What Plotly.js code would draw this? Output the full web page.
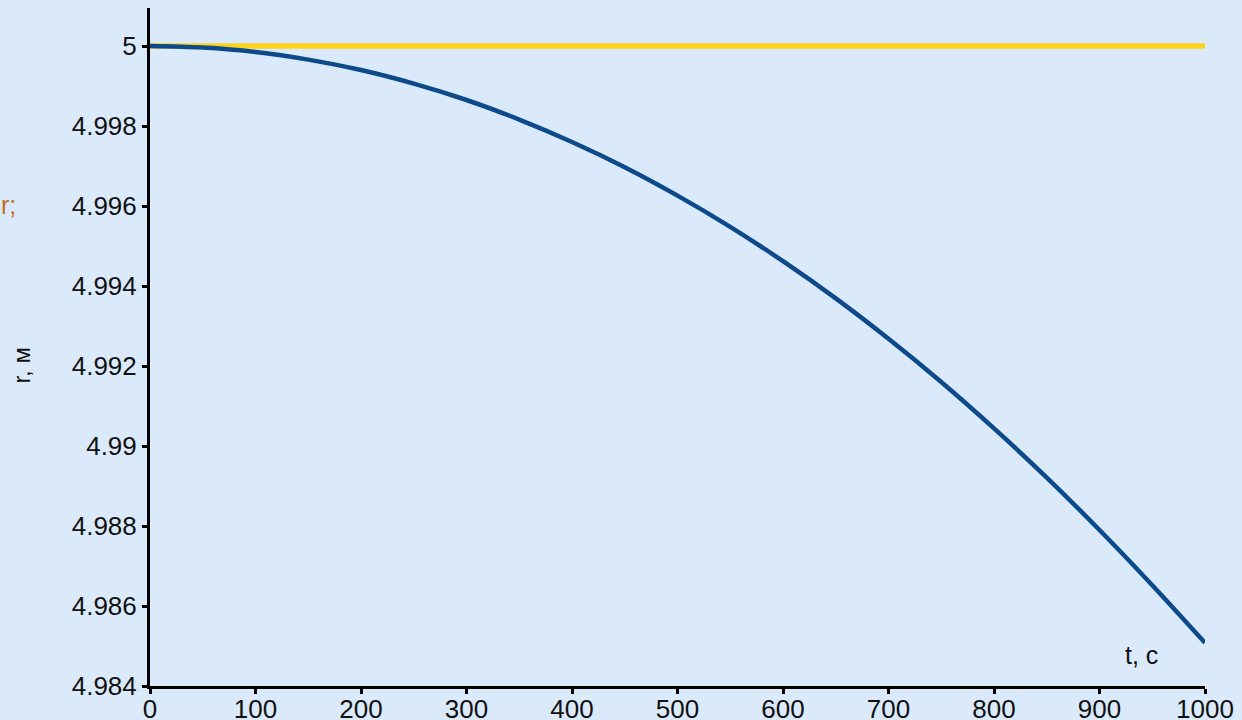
<!DOCTYPE html>
<html>
<head>
<meta charset="utf-8">
<script src="https://cdn.plot.ly/plotly-3.0.1.min.js"></script>
<style>
  html, body { margin: 0; padding: 0; background: #dbeafb; }
  #chart { width: 1242px; height: 720px; }
</style>
</head>
<body>
<div id="chart"></div>
<script>
// Time, s
const timeS = [0, 50, 100, 150, 200, 250, 300, 350, 400, 450, 500,
               550, 600, 650, 700, 750, 800, 850, 900, 950, 1000];
// Radius of the moving body, m
const radiusM = [5, 4.99996, 4.99985, 4.99966, 4.9994, 4.99906, 4.99865, 4.99816,
                 4.9976, 4.99697, 4.99626, 4.99548, 4.99462, 4.99369, 4.99268,
                 4.9916, 4.99044, 4.98921, 4.9879, 4.98652, 4.98508];
// Reference radius (constant)
const refTime = [0, 1000];
const refRadius = [5, 5];

const xTicks = [0, 100, 200, 300, 400, 500, 600, 700, 800, 900, 1000];
const yTicks = [4.984, 4.986, 4.988, 4.99, 4.992, 4.994, 4.996, 4.998, 5];
const yTickText = ['4.984', '4.986', '4.988', '4.99', '4.992', '4.994', '4.996', '4.998', '5'];

const fontFamily = '"Liberation Sans", Arial, sans-serif';

const traces = [
  {
    x: refTime, y: refRadius, mode: 'lines', type: 'scatter',
    line: { color: '#ffd21c', width: 5.5 }, hoverinfo: 'skip'
  },
  {
    x: timeS, y: radiusM, mode: 'lines', type: 'scatter',
    line: { color: '#0c4a8a', width: 4.5, shape: 'spline', smoothing: 1 },
    hoverinfo: 'skip'
  }
];

const layout = {
  width: 1242, height: 720,
  paper_bgcolor: '#dbeafb', plot_bgcolor: '#dbeafb',
  showlegend: false,
  margin: { l: 150, r: 37, t: 8, b: 34, pad: 0 },
  font: { family: fontFamily, size: 26, color: '#111' },
  xaxis: {
    range: [0, 1000], tickvals: xTicks, ticktext: xTicks.map(String),
    showgrid: false, zeroline: false,
    showline: true, linecolor: '#000', linewidth: 3,
    ticks: 'outside', ticklen: 5, tickwidth: 3, tickcolor: '#000',
    ticklabelstandoff: -7,
    tickfont: { family: fontFamily, size: 26, color: '#111' },
    fixedrange: true
  },
  yaxis: {
    range: [4.984, 5.00095], tickvals: yTicks, ticktext: yTickText,
    showgrid: false, zeroline: false,
    showline: true, linecolor: '#000', linewidth: 3,
    ticks: 'outside', ticklen: 5, tickwidth: 3, tickcolor: '#000',
    tickfont: { family: fontFamily, size: 26, color: '#111' },
    fixedrange: true
  },
  annotations: [
    { text: 't, c', xref: 'paper', yref: 'paper', x: 0.94, y: 0.045,
      xanchor: 'center', yanchor: 'middle', showarrow: false,
      font: { family: fontFamily, size: 25, color: '#111' } },
    { text: 'r;', xref: 'paper', yref: 'paper', x: -0.143, y: 0.71,
      xanchor: 'left', yanchor: 'middle', showarrow: false,
      font: { family: fontFamily, size: 25, color: '#c0701e' } },
    { text: 'r, м', xref: 'paper', yref: 'paper', x: -0.122, y: 0.473,
      xanchor: 'center', yanchor: 'middle', showarrow: false, textangle: -90,
      font: { family: fontFamily, size: 24, color: '#111' } }
  ]
};

Plotly.newPlot('chart', traces, layout, { displayModeBar: false, staticPlot: true });
</script>
</body>
</html>
